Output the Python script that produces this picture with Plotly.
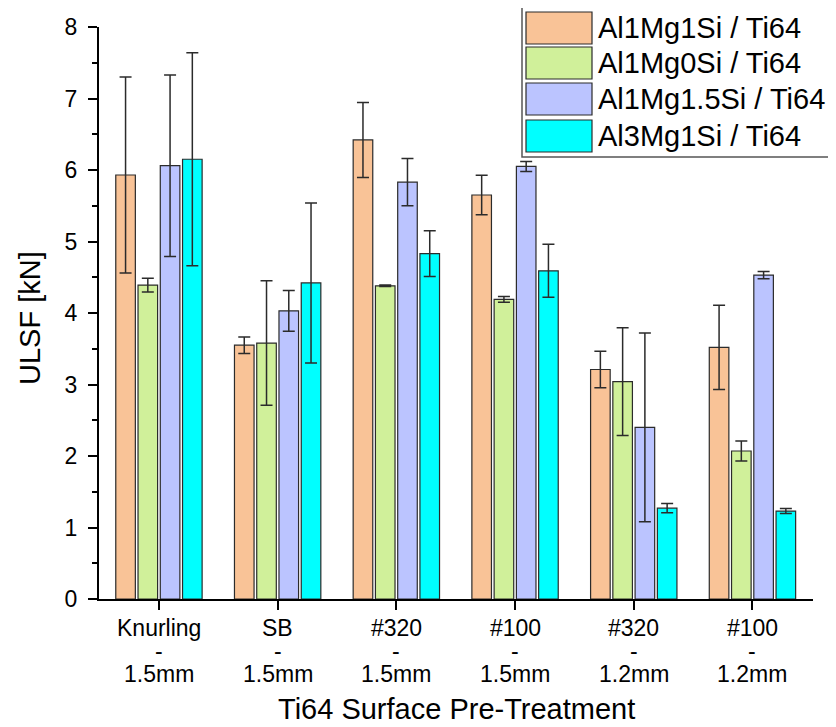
import plotly.graph_objects as go

# ---------------- data ----------------
surface = ["Knurling", "SB", "#320", "#100", "#320", "#100"]
thickness = ["1.5mm", "1.5mm", "1.5mm", "1.5mm", "1.2mm", "1.2mm"]
categories = [f"{s}<br>-<br>{t}" for s, t in zip(surface, thickness)]
series_names = ["Al1Mg1Si / Ti64", "Al1Mg0Si / Ti64", "Al1Mg1.5Si / Ti64", "Al3Mg1Si / Ti64"]

al1mg1si = [5.93, 3.55, 6.42, 5.65, 3.21, 3.52]
al1mg1si_err = [1.37, 0.115, 0.525, 0.275, 0.255, 0.59]
al1mg0si = [4.39, 3.58, 4.38, 4.19, 3.04, 2.07]
al1mg0si_err = [0.095, 0.87, 0.01, 0.04, 0.755, 0.14]
al1mg15si = [6.06, 4.03, 5.83, 6.05, 2.40, 4.53]
al1mg15si_err = [1.27, 0.285, 0.33, 0.07, 1.32, 0.05]
al3mg1si = [6.15, 4.42, 4.83, 4.59, 1.27, 1.23]
al3mg1si_err = [1.49, 1.12, 0.32, 0.37, 0.065, 0.035]

values = [al1mg1si, al1mg0si, al1mg15si, al3mg1si]
errors = [al1mg1si_err, al1mg0si_err, al1mg15si_err, al3mg1si_err]
colors = ["#F9C397", "#D0F09A", "#BBC4FF", "#00FFFF"]

FONT = "Liberation Sans, Arial, sans-serif"

fig = go.Figure()
for name, v, e, c in zip(series_names, values, errors, colors):
    fig.add_trace(go.Bar(
        x=categories, y=v, name=name,
        marker=dict(color=c, line=dict(color="#2b2b2b", width=1.2)),
        error_y=dict(type="data", array=e, visible=True, color="#2b2b2b",
                     thickness=1.5, width=6),
        showlegend=False,
    ))

# geometry: page body has an 8px margin, so figure px = screen px - 8
OFF = 8
W, H = 836 - OFF, 727 - OFF
L, T = 99 - OFF, 27 - OFF
R, B = W - (813 - OFF), H - (599 - OFF)
pw, ph = W - L - R, H - T - B

def px(x):  # screen x -> paper
    return (x - OFF - L) / pw

def py(y):  # screen y -> paper
    return (H - B - (y - OFF)) / ph

shapes = []
annotations = []
# legend box
shapes.append(dict(type="rect", xref="paper", yref="paper",
                   x0=px(522), x1=px(835), y0=py(157), y1=py(7),
                   line=dict(color="#555555", width=1.5), fillcolor="white", layer="above"))
row_tops = [12, 47, 83, 120]
for name, c, top in zip(series_names, colors, row_tops):
    shapes.append(dict(type="rect", xref="paper", yref="paper",
                       x0=px(526), x1=px(592), y0=py(top + 32), y1=py(top),
                       line=dict(color="#2b2b2b", width=1.2), fillcolor=c, layer="above"))
    annotations.append(dict(xref="paper", yref="paper", x=px(596), y=py(top + 16),
                            xanchor="left", yanchor="middle", showarrow=False,
                            text=name, font=dict(family=FONT, size=29, color="black")))

# category labels (three tight lines)
for cat, s, t in zip(categories, surface, thickness):
    for txt, yy in ((s, 628), ("-", 651), (t, 674)):
        annotations.append(dict(xref="x", yref="paper", x=cat, y=py(yy),
                                xanchor="center", yanchor="middle", showarrow=False,
                                text=txt, font=dict(family=FONT, size=23, color="black")))

# axis titles
annotations.append(dict(xref="paper", yref="paper", x=px(456), y=py(709),
                        xanchor="center", yanchor="middle", showarrow=False,
                        text="Ti64 Surface Pre-Treatment",
                        font=dict(family=FONT, size=29, color="black")))
annotations.append(dict(xref="paper", yref="paper", x=px(30), y=py(318),
                        xanchor="center", yanchor="middle", showarrow=False, textangle=-90,
                        text="ULSF [kN]",
                        font=dict(family=FONT, size=29, color="black")))

fig.update_layout(
    width=W, height=H,
    margin=dict(l=L, r=R, t=T, b=B, pad=0, autoexpand=False),
    paper_bgcolor="white", plot_bgcolor="white",
    barmode="group", bargap=0.25, bargroupgap=0.12,
    font=dict(family=FONT, color="black"),
    shapes=shapes, annotations=annotations,
    xaxis=dict(
        showline=True, linecolor="black", linewidth=2,
        ticks="outside", ticklen=9, tickwidth=2, tickcolor="black",
        showticklabels=False,
        showgrid=False, zeroline=False, range=[-0.505, 5.51],
    ),
    yaxis=dict(
        range=[0, 8], dtick=1,
        showline=True, linecolor="black", linewidth=2,
        ticks="outside", ticklen=9, tickwidth=2, tickcolor="black",
        minor=dict(dtick=0.5, ticks="outside", ticklen=5, tickwidth=2, tickcolor="black"),
        tickfont=dict(size=23, family=FONT), ticklabelstandoff=6,
        showgrid=False, zeroline=False,
    ),
)

fig.write_html("out.html")
